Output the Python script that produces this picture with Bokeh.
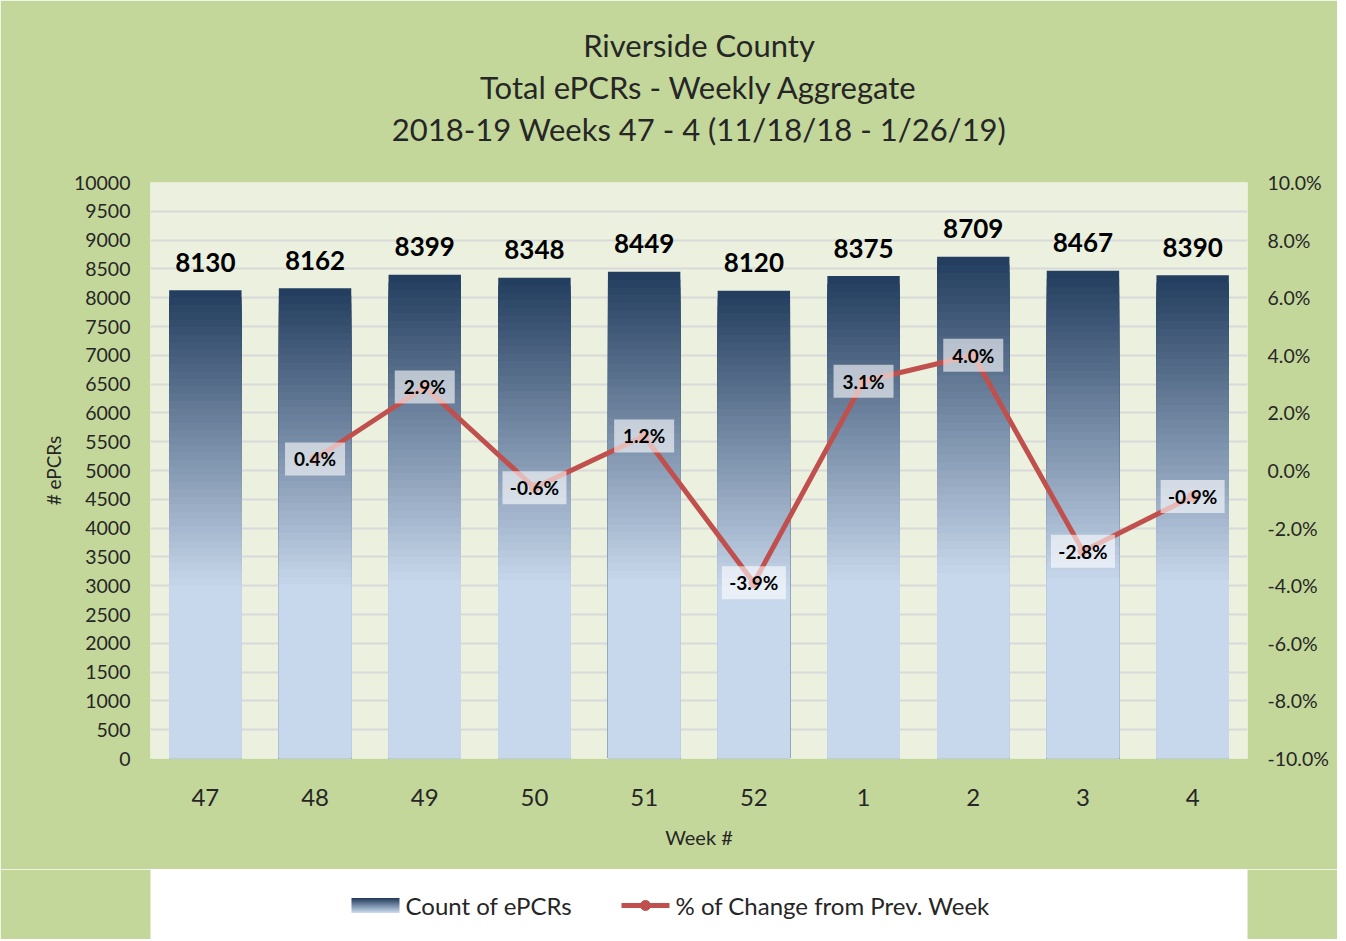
from bokeh.plotting import figure
from bokeh.layouts import column
from bokeh.models import (ColumnDataSource, FactorRange, Range1d, LinearAxis, FixedTicker,
                          PrintfTickFormatter, LabelSet, Title)
from bokeh.core.properties import value
from bokeh.embed import file_html
from bokeh.resources import INLINE

# ---------------- data ----------------
weeks = ["47", "48", "49", "50", "51", "52", "1", "2", "3", "4"]
counts = [8130, 8162, 8399, 8348, 8449, 8120, 8375, 8709, 8467, 8390]
pct_weeks = ["48", "49", "50", "51", "52", "1", "2", "3", "4"]
pct_change = [0.4, 2.9, -0.6, 1.2, -3.9, 3.1, 4.0, -2.8, -0.9]
left_ticks = list(range(0, 10001, 500))
right_ticks = [-10, -8, -6, -4, -2, 0, 2, 4, 6, 8, 10]
title_lines = ["Riverside County", "Total ePCRs - Weekly Aggregate",
               "2018-19 Weeks 47 - 4 (11/18/18 - 1/26/19)"]
legend_labels = ["Count of ePCRs", "% of Change from Prev. Week"]

FONT = "Lato"
TXT = "#262626"
OUTER = "#C4D79B"
INNER = "#EBF1DE"
RED = "#C0504D"
LIGHT = (200, 216, 236)
DARK = (36, 62, 95)


def blend(t):
    return "#%02x%02x%02x" % tuple(int(round(l + (d - l) * t)) for l, d in zip(LIGHT, DARK))


p = figure(x_range=FactorRange(*weeks), y_range=Range1d(0, 10000),
           frame_width=1097, frame_height=576, output_backend="svg", toolbar_location=None,
           title=None, min_border_left=150, min_border_right=90,
           min_border_top=182, min_border_bottom=111)
p.border_fill_color = OUTER
p.background_fill_color = INNER
p.outline_line_color = None
p.extra_y_ranges = {"pct": Range1d(-10, 10)}

# ---------------- gradient bars (overlapping slices) ----------------
start = 0.37
N = 40
bx, btop, bcol = [], [], []
for k in range(N, -1, -1):
    f = start + (1 - start) * k / N
    col = blend(k / N)
    for w, c in zip(weeks, counts):
        bx.append(w)
        btop.append(c * f)
        bcol.append(col)
bar_src = ColumnDataSource(dict(x=bx, top=btop, color=bcol))
p.vbar(x="x", top="top", bottom=0, width=0.66, fill_color="color",
       line_color=None, source=bar_src)

# ---------------- line ----------------
pct_text = ["%.1f%%" % v for v in pct_change]
line_src = ColumnDataSource(dict(x=pct_weeks, y=pct_change, label=pct_text,
                                 w=[4 * len(s) + 44 for s in pct_text]))
p.line("x", "y", source=line_src, y_range_name="pct", color=RED, line_width=5)
p.scatter("x", "y", source=line_src, y_range_name="pct", color=RED, size=10)
p.rect(x="x", y="y", width="w", height=33, width_units="screen", height_units="screen",
       source=line_src, y_range_name="pct", fill_color="white", fill_alpha=0.6,
       line_color=None)
p.add_layout(LabelSet(x="x", y="y", text="label", source=line_src, y_range_name="pct",
                      text_align="center", text_baseline="middle",
                      text_font=value(FONT), text_font_style="bold", text_font_size="19px",
                      text_color="black"))

# ---------------- bar value labels ----------------
cnt_src = ColumnDataSource(dict(x=weeks, y=counts, label=[str(c) for c in counts]))
p.add_layout(LabelSet(x="x", y="y", text="label", source=cnt_src, y_offset=28,
                      text_align="center", text_baseline="middle",
                      text_font=value(FONT), text_font_style="bold", text_font_size="26px",
                      text_color="black"))

# ---------------- axes ----------------
def style_axis(ax, size="19.5px"):
    ax.axis_line_color = None
    ax.major_tick_line_color = None
    ax.minor_tick_line_color = None
    ax.major_tick_out = 0
    ax.major_tick_in = 0
    ax.minor_tick_out = 0
    ax.major_label_text_font = FONT
    ax.major_label_text_font_size = size
    ax.major_label_text_color = TXT
    ax.axis_label_text_font = FONT
    ax.axis_label_text_font_style = "normal"
    ax.axis_label_text_color = TXT

p.yaxis.ticker = FixedTicker(ticks=left_ticks)
style_axis(p.yaxis[0])
p.yaxis.major_label_standoff = 20
p.yaxis.axis_label = "# ePCRs"
p.yaxis.axis_label_text_font_size = "19px"
p.yaxis.axis_label_standoff = 6

rax = LinearAxis(y_range_name="pct", ticker=FixedTicker(ticks=right_ticks),
                 formatter=PrintfTickFormatter(format="%.1f%%"))
style_axis(rax)
rax.major_label_standoff = 20
p.add_layout(rax, "right")

style_axis(p.xaxis[0], "24px")
p.xaxis.major_label_standoff = 30
p.xaxis.axis_label = "Week #"
p.xaxis.axis_label_text_font_size = "20px"
p.xaxis.axis_label_standoff = 16

p.xgrid.grid_line_color = None
p.ygrid.grid_line_color = "#D9D9D9"
p.ygrid.grid_line_width = 2

# ---------------- titles ----------------
p.add_layout(Title(text=" ", text_font_size="23px", standoff=6), "above")
for txt in reversed(title_lines):
    p.add_layout(Title(text=txt, align="center", text_font=FONT, text_font_size="31px",
                       text_font_style="normal", text_color=TXT, standoff=2), "above")

# ---------------- legend strip (its frame is aligned with the chart frame) ----------------
LW, LH = 1337, 70
lg = figure(width=LW, height=LH, x_range=Range1d(151, 1248), y_range=Range1d(0, LH),
            output_backend="svg", toolbar_location=None, title=None,
            x_axis_location=None, y_axis_location=None, min_border=0)
lg.grid.visible = False
lg.outline_line_color = None
lg.background_fill_alpha = 0
lg.border_fill_color = OUTER

cy = 34            # vertical centre of the legend row
sw_x0, sw_x1 = 352, 400
sw_h = 15
steps = 15
sq_bottom, sq_top, sq_col = [], [], []
for i in range(steps):
    sq_bottom.append(cy - sw_h / 2 + i * sw_h / steps)
    sq_top.append(cy - sw_h / 2 + (i + 1) * sw_h / steps)
    sq_col.append(blend(i / (steps - 1)))
lg.quad(left=sw_x0, right=sw_x1, bottom=sq_bottom, top=sq_top, fill_color=sq_col,
        line_color=None)
lg.line([622, 670], [cy, cy], color=RED, line_width=5)
lg.scatter([646], [cy], color=RED, size=10)
lg.text(x=[406, 676], y=[cy, cy], text=legend_labels, text_baseline="middle",
        text_align="left", text_font=value(FONT), text_font_size="24px", text_color=TXT)

layout = column(p, lg, spacing=0)
open("out.html", "w").write(file_html(layout, INLINE))
